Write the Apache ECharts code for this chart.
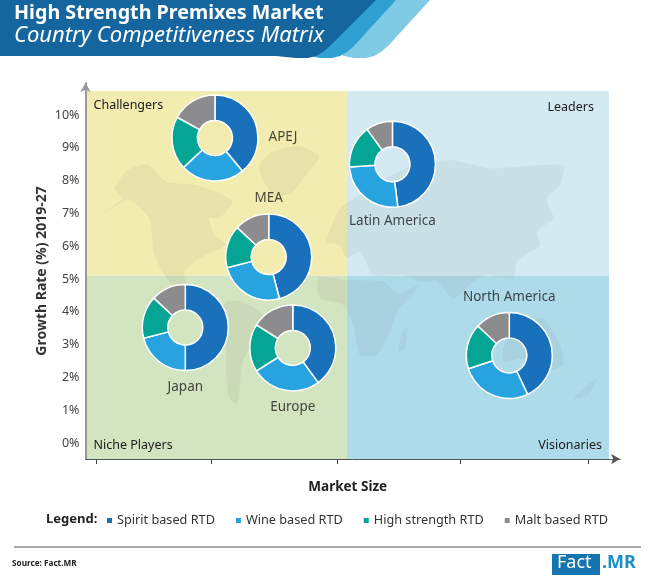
<!DOCTYPE html>
<html><head><meta charset="utf-8">
<style>html,body{margin:0;padding:0;background:#fff}#c{width:650px;height:586px}</style>
<script src="https://cdn.jsdelivr.net/npm/echarts@6/dist/echarts.min.js"></script>
</head><body><div id="c"></div>
<script>
const segments = ['Spirit based RTD','Wine based RTD','High strength RTD','Malt based RTD'];
const regions = ['APEJ','Latin America','MEA','Japan','Europe','North America'];
const marketSize = [0.967,2.41,1.404,0.726,1.6,3.36];
const growthRate = [9.3,8.5,5.67,3.52,2.9,2.67];
const spiritShare = [39,48,46,50,40,43];
const wineShare = [24,26,25,21,26,27];
const highShare = [20,16,16,16,18,17];
const maltShare = [17,10,13,13,16,13];
const yTicks = [0,1,2,3,4,5,6,7,8,9,10];
const xTicks = [0,0.935,1.959,2.96,4];
const splitX = 2.04, splitY = 5.1, areaRight = 4.17, areaTop = 10.73;

const colors = ['#1a71bb','#27a4e0','#05a595','#8c8c8e'];
const font = '"Noto Sans"';
const labelOffsets = {'APEJ':[68,-1],'Latin America':[0,57],'MEA':[0,-59],'Japan':[0,60],'Europe':[0,59],'North America':[0,-58]};
const XMIN = -0.0854, XMAX = 4.26, YMIN = -0.488, YMAX = 10.976;

const mapColor = 'rgba(90,90,70,0.065)';
function land(offX, offY, pts){
  return {type:'polygon', z:1.5, silent:true, shape:{points:pts.map(p=>[offX+p[0]/3, offY+p[1]/3]), smooth:0.2}, style:{fill:mapColor}};
}
const landShapes = [
  land(86,85,[[55,382],[110,340],[85,310],[125,255],[185,238],[240,290],[330,300],[400,325],[440,350],[400,400],[370,400],[385,450],[420,480],[340,520],[295,560],[300,610],[250,590],[205,510],[190,400],[130,345]]),
  land(86,85,[[520,240],[560,200],[640,183],[700,215],[660,270],[620,320],[570,335],[530,285]]),
  land(86,85,[[420,650],[470,650],[530,690],[510,760],[470,830],[455,955],[430,940],[420,860],[420,790],[400,710]]),
  land(340,85,[[-40,470],[0,370],[60,330],[120,290],[200,250],[330,225],[450,250],[670,240],[660,300],[620,340],[640,400],[590,440],[600,480],[530,530],[520,580],[440,570],[400,590],[340,640],[290,590],[240,590],[190,570],[100,570],[60,500],[20,520],[0,480]]),
  land(340,85,[[-60,575],[20,585],[130,590],[175,625],[240,600],[170,680],[150,740],[110,810],[60,810],[40,720],[10,660],[-60,640],[-70,600]]),
  land(340,85,[[175,800],[185,745],[203,725],[195,790]]),
  land(340,85,[[490,790],[530,730],[610,700],[660,780],[670,840],[610,860],[550,820],[490,830]]),
  land(340,85,[[700,940],[770,880],[745,930]])
];

const banner = [
  {type:'polygon',z:5,shape:{points:[[300,0],[430,0],[388,46],[381,52],[374,56],[366,58],[354,58],[344,56],[330,50]]},style:{fill:'#7fcbe6'}},
  {type:'polygon',z:6,shape:{points:[[290,0],[396,0],[354,46],[347,52],[340,56],[332,58],[320,58],[310,56],[296,50]]},style:{fill:'#2fa0d2'}},
  {type:'polygon',z:7,shape:{points:[[0,0],[376,0],[330,46],[323,52],[316,56],[308,58],[296,58],[286,57],[276,56],[0,56]]},style:{fill:'#15659f'}},
  {type:'text',z:8,x:14,y:3,style:{text:'High Strength Premixes Market',fill:'#fff',font:'bold 19.7px '+font}},
  {type:'text',z:8,x:14,y:25,style:{text:'Country Competitiveness Matrix',fill:'#fff',font:'italic 22px '+font}},
  {type:'text',z:8,x:46,y:513,style:{text:'Legend:',fill:'#222',font:'bold 13px '+font}},
  {type:'rect',z:8,shape:{x:14,y:546,width:627,height:2},style:{fill:'#aaaaaa'}},
  {type:'text',z:8,x:12,y:560,style:{text:'Source: Fact.MR',fill:'#222',font:'bold 8.2px '+font}},
  {type:'rect',z:8,shape:{x:552,y:554,width:48,height:21},style:{fill:'#1575b0'}},
  {type:'text',z:9,x:557,y:554,style:{text:'Fact',fill:'#fff',font:'18px '+font}},
  {type:'text',z:9,x:602,y:554,style:{text:'.MR',fill:'#1a8fc6',font:'bold 18px '+font}}
];

function quadrant(name,x0,y0,x1,y1,color,pos,offset){
  return [{name:name,xAxis:x0,yAxis:y0,itemStyle:{color:color},
    label:{show:true,position:pos,offset:offset,color:'#1a1a1a',fontFamily:font,fontSize:12.5}},{xAxis:x1,yAxis:y1}];
}

const pies = regions.map((r,i)=>({
  type:'pie', name:r, coordinateSystem:'cartesian2d', coord:[marketSize[i],growthRate[i]],
  center:[marketSize[i],growthRate[i]], radius:[17.5,43], z:2, startAngle:90, clockwise:true,
  label:{show:false}, emphasis:{disabled:true}, animation:false,
  itemStyle:{borderColor:'#fff',borderWidth:1.5},
  color:colors,
  data:segments.map((s,j)=>({name:s,value:[spiritShare,wineShare,highShare,maltShare][j][i]}))
}));

const chart = echarts.init(document.getElementById('c'),null,{renderer:'canvas'});
chart.setOption({
  animation:false,
  color:colors,
  textStyle:{fontFamily:font},
  grid:{left:85.5,right:30,top:83,bottom:127},
  legend:{data:segments,left:100,top:509,itemWidth:7,itemHeight:7,itemGap:19,icon:'rect',
    textStyle:{fontFamily:font,fontSize:12.7,color:'#333',padding:[0,0,0,-1]},selectedMode:false},
  xAxis:{type:'value',min:XMIN,max:XMAX,name:'Market Size',nameLocation:'middle',nameGap:21,
    nameTextStyle:{fontFamily:font,fontWeight:'bold',fontSize:13.5,color:'#222',padding:[0,10,0,0]},
    splitLine:{show:false},z:3,
    axisLine:{show:true,onZero:false,symbol:['none','arrow'],symbolSize:[8,9],lineStyle:{color:'#555',width:1}},
    axisTick:{show:true,customValues:xTicks,length:5,inside:false,lineStyle:{color:'#444'}},
    axisLabel:{show:false,customValues:xTicks}},
  yAxis:{type:'value',min:YMIN,max:YMAX,name:'Growth Rate (%) 2019-27',nameLocation:'middle',nameGap:36,nameMoveOverlap:false,
    nameTextStyle:{fontFamily:font,fontWeight:'bold',fontSize:14,color:'#333'},
    splitLine:{show:false},z:3,
    axisLine:{show:true,onZero:false,symbol:['none','arrow'],symbolSize:[8,9],lineStyle:{color:'#999',width:2}},
    axisTick:{show:false,customValues:yTicks},
    axisLabel:{customValues:yTicks,formatter:v=>v+'%',margin:6,color:'#444',fontFamily:font,fontSize:12.5}},
  graphic:{elements:landShapes.concat(banner)},
  series:[
    {type:'line',name:'quadrants',data:[],silent:true,z:1,
      markArea:{silent:true,z:1,data:[
        quadrant('Challengers',XMIN,splitY,splitX,areaTop,'#f2ecb0','insideTopLeft',[3,3]),
        quadrant('Leaders',splitX,splitY,areaRight,areaTop,'#d3eaf3','insideTopRight',[-10,5]),
        quadrant('Niche Players',XMIN,YMIN,splitX,splitY,'#d3e4c0','insideBottomLeft',[3,-2]),
        quadrant('Visionaries',splitX,YMIN,areaRight,splitY,'#aedbea','insideBottomRight',[-2,-2])
      ]}},
    ...pies,
    {type:'scatter',name:'regions',z:4,symbolSize:0,silent:true,
      data:regions.map((r,i)=>({name:r,value:[marketSize[i],growthRate[i]],
        label:{show:true,formatter:r,position:'inside',offset:labelOffsets[r],color:'#1a1a1a',fontFamily:font,fontSize:13.5}}))}
  ]
});
</script></body></html>
